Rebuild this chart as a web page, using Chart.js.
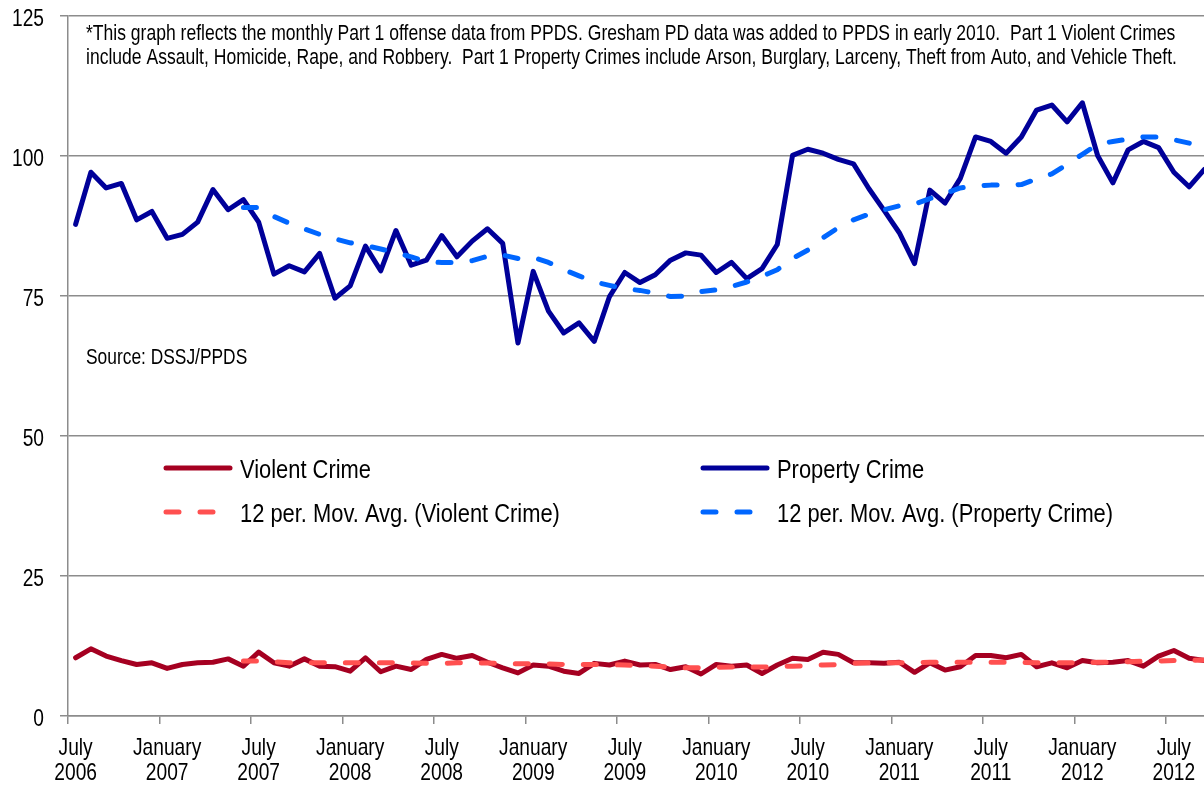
<!DOCTYPE html>
<html>
<head>
<meta charset="utf-8">
<script src="https://cdn.jsdelivr.net/npm/chart.js@4.4.1/dist/chart.umd.min.js"></script>
<style>
  html, body { margin: 0; padding: 0; background: #fff; overflow: hidden; }
  #wrap { position: relative; width: 1204px; height: 788px; overflow: hidden; }
  canvas { display: block; }
</style>
</head>
<body>
<div id="wrap"><canvas id="chart" width="1212" height="788"></canvas></div>
<script>
// monthly categories, July 2006 - September 2012
const categories = [
  'Jul 2006', 'Aug 2006', 'Sep 2006', 'Oct 2006', 'Nov 2006', 'Dec 2006',
  'Jan 2007', 'Feb 2007', 'Mar 2007', 'Apr 2007', 'May 2007', 'Jun 2007',
  'Jul 2007', 'Aug 2007', 'Sep 2007', 'Oct 2007', 'Nov 2007', 'Dec 2007',
  'Jan 2008', 'Feb 2008', 'Mar 2008', 'Apr 2008', 'May 2008', 'Jun 2008',
  'Jul 2008', 'Aug 2008', 'Sep 2008', 'Oct 2008', 'Nov 2008', 'Dec 2008',
  'Jan 2009', 'Feb 2009', 'Mar 2009', 'Apr 2009', 'May 2009', 'Jun 2009',
  'Jul 2009', 'Aug 2009', 'Sep 2009', 'Oct 2009', 'Nov 2009', 'Dec 2009',
  'Jan 2010', 'Feb 2010', 'Mar 2010', 'Apr 2010', 'May 2010', 'Jun 2010',
  'Jul 2010', 'Aug 2010', 'Sep 2010', 'Oct 2010', 'Nov 2010', 'Dec 2010',
  'Jan 2011', 'Feb 2011', 'Mar 2011', 'Apr 2011', 'May 2011', 'Jun 2011',
  'Jul 2011', 'Aug 2011', 'Sep 2011', 'Oct 2011', 'Nov 2011', 'Dec 2011',
  'Jan 2012', 'Feb 2012', 'Mar 2012', 'Apr 2012', 'May 2012', 'Jun 2012',
  'Jul 2012', 'Aug 2012', 'Sep 2012'
];

// shown every 6th month
const tickLabels = [
  ['July', '2006'], ['January', '2007'], ['July', '2007'], ['January', '2008'],
  ['July', '2008'], ['January', '2009'], ['July', '2009'], ['January', '2010'],
  ['July', '2010'], ['January', '2011'], ['July', '2011'], ['January', '2012'],
  ['July', '2012']
];

const yTicks = [0, 25, 50, 75, 100, 125];

const violentCrime = [
  10.4, 12.0, 10.7, 9.9, 9.2, 9.5, 8.5, 9.2, 9.5, 9.6, 10.2, 8.9,
  11.4, 9.5, 8.9, 10.2, 8.9, 8.8, 8.0, 10.4, 7.9, 8.9, 8.3, 10.1,
  11.0, 10.3, 10.8, 9.6, 8.6, 7.7, 9.1, 8.9, 8.0, 7.6, 9.4, 9.1,
  9.8, 9.1, 9.2, 8.3, 8.8, 7.5, 9.2, 8.9, 9.1, 7.6, 9.1, 10.3,
  10.1, 11.4, 11.0, 9.5, 9.5, 9.4, 9.6, 7.8, 9.5, 8.2, 8.8, 10.8,
  10.8, 10.4, 11.0, 8.8, 9.5, 8.6, 9.9, 9.5, 9.6, 9.9, 8.9, 10.7,
  11.7, 10.3, 9.9
];

const propertyCrime = [
  87.8, 97.1, 94.3, 95.1, 88.6, 90.1, 85.3, 86.0, 88.2, 94.0, 90.4, 92.2,
  88.2, 78.9, 80.4, 79.3, 82.6, 74.6, 76.8, 83.9, 79.5, 86.7, 80.5, 81.4,
  85.8, 82.0, 84.8, 87.0, 84.4, 66.6, 79.4, 72.3, 68.4, 70.2, 66.9, 74.9,
  79.2, 77.4, 78.8, 81.4, 82.7, 82.3, 79.2, 81.0, 78.1, 79.9, 84.2, 100.1,
  101.2, 100.5, 99.4, 98.6, 94.2, 90.3, 86.3, 80.8, 93.9, 91.6, 96.0, 103.4,
  102.6, 100.5, 103.4, 108.2, 109.1, 106.1, 109.5, 100.1, 95.2, 101.1, 102.6, 101.5,
  97.1, 94.5, 97.6
];

// 12 period moving averages, first value at June 2007
const avgStart = 11;
const violentAvg = [
  9.8, 9.8, 9.7, 9.5, 9.5, 9.5, 9.5, 9.5, 9.5, 9.5, 9.5, 9.45, 9.4,
  9.35, 9.5, 9.5, 9.45, 9.35, 9.35, 9.35, 9.3, 9.2, 9.2, 9.2, 9.2, 9.1,
  8.95, 8.9, 8.7, 8.6, 8.6, 8.7, 8.75, 8.75, 8.75, 8.8, 8.9, 9.0, 9.1,
  9.2, 9.4, 9.5, 9.5, 9.5, 9.5, 9.6, 9.6, 9.6, 9.6, 9.6, 9.6, 9.6,
  9.5, 9.5, 9.5, 9.5, 9.6, 9.6, 9.7, 9.8, 9.8, 9.9, 9.9, 10.0
];
const propertyAvg = [
  90.8, 90.8, 89.2, 88.0, 87.0, 86.0, 85.2, 84.5, 84.0, 83.4, 82.7, 82.0, 81.1,
  81.0, 81.0, 81.3, 82.1, 82.3, 81.7, 81.9, 81.0, 79.7, 78.6, 77.5, 76.9, 76.3,
  76.0, 75.5, 74.9, 75.0, 75.8, 76.1, 76.7, 77.5, 78.5, 79.7, 81.7, 83.2, 85.4,
  87.2, 88.6, 89.6, 90.4, 91.1, 91.4, 92.4, 93.3, 94.3, 94.6, 94.8, 94.8, 94.9,
  95.9, 96.8, 98.5, 100.3, 102.1, 102.6, 103.0, 103.4, 103.4, 102.9, 102.3, 101.7
];

const noteLines = [
  '*This graph reflects the monthly Part 1 offense data from PPDS. Gresham PD data was added to PPDS in early 2010.  Part 1 Violent Crimes',
  'include Assault, Homicide, Rape, and Robbery.  Part 1 Property Crimes include Arson, Burglary, Larceny, Theft from Auto, and Vehicle Theft.'
];
const sourceText = 'Source: DSSJ/PPDS';

// no Arial Narrow here, so squeeze Liberation Sans sideways
const FONT = "'Liberation Sans', Arial, sans-serif";
const NARROW = 0.82;
const GRID = '#8c8c8c';

function padAvg(values) {
  return new Array(avgStart).fill(null).concat(values);
}

function narrowText(ctx, text, x, y, size, align) {
  ctx.save();
  ctx.font = size + 'px ' + FONT;
  ctx.fillStyle = '#000';
  ctx.textAlign = align;
  ctx.textBaseline = 'alphabetic';
  ctx.translate(x, y);
  ctx.scale(NARROW, 1);
  ctx.fillText(text, 0, 0);
  ctx.restore();
}

const datasets = [
  { label: 'Violent Crime', data: violentCrime, borderColor: '#a50021', borderDash: [], order: 1 },
  { label: 'Property Crime', data: propertyCrime, borderColor: '#000099', borderDash: [], order: 1 },
  { label: '12 per. Mov. Avg. (Violent Crime)', data: padAvg(violentAvg), borderColor: '#ff5050', borderDash: [13, 21], order: 0 },
  { label: '12 per. Mov. Avg. (Property Crime)', data: padAvg(propertyAvg), borderColor: '#0066ff', borderDash: [13, 21], order: 0 }
].map(d => Object.assign(d, {
  borderWidth: 5,
  borderCapStyle: 'round',
  borderJoinStyle: 'round',
  pointRadius: 0,
  tension: 0,
  fill: false,
  spanGaps: false
}));

// legend boxes: [dataset index, line x, row y]
const legendSlots = [[0, 163, 468], [1, 700, 468], [2, 163, 512], [3, 700, 512]];

const overlayPlugin = {
  id: 'overlay',
  afterDraw(chart) {
    const ctx = chart.ctx;
    const xs = chart.scales.x;
    const ys = chart.scales.y;

    // axis labels
    yTicks.forEach(v => narrowText(ctx, String(v), 44, ys.getPixelForValue(v) + 9.5, 23.4, 'right'));
    tickLabels.forEach((lines, k) => {
      const x = xs.getPixelForValue(k * 6);
      narrowText(ctx, lines[0], x, 755, 23.4, 'center');
      narrowText(ctx, lines[1], x, 780, 23.4, 'center');
    });

    // notes
    narrowText(ctx, noteLines[0], 86, 39.5, 21.4, 'left');
    narrowText(ctx, noteLines[1], 86, 63.5, 21.4, 'left');
    narrowText(ctx, sourceText, 86, 363.5, 21.2, 'left');

    // legend
    legendSlots.forEach(([i, x, y]) => {
      const ds = chart.data.datasets[i];
      ctx.save();
      ctx.strokeStyle = ds.borderColor;
      ctx.lineWidth = 5;
      ctx.lineCap = 'round';
      ctx.setLineDash(ds.borderDash);
      ctx.beginPath();
      ctx.moveTo(x + 3, y);
      ctx.lineTo(x + 67, y);
      ctx.stroke();
      ctx.restore();
      narrowText(ctx, ds.label, x + 77, y + 9.5, 26.7, 'left');
    });
  }
};

new Chart(document.getElementById('chart'), {
  type: 'line',
  data: { labels: categories, datasets: datasets },
  plugins: [overlayPlugin],
  options: {
    responsive: false,
    animation: false,
    layout: { padding: { top: 16, right: 0, bottom: 0, left: 0 } },
    plugins: { legend: { display: false }, tooltip: { enabled: false } },
    scales: {
      x: {
        type: 'category',
        offset: true,
        afterFit: scale => { scale.height = 72; },
        grid: {
          offset: true,
          drawOnChartArea: false,
          drawTicks: true,
          tickLength: 8,
          lineWidth: 1.5,
          color: ctx => (ctx.index % 6 === 0 ? GRID : 'rgba(0,0,0,0)')
        },
        border: { display: true, color: GRID, width: 1.5 },
        ticks: { display: false, autoSkip: false, maxRotation: 0 }
      },
      y: {
        min: yTicks[0],
        max: yTicks[yTicks.length - 1],
        afterFit: scale => { scale.width = 68; },
        afterBuildTicks: scale => { scale.ticks = yTicks.map(v => ({ value: v })); },
        grid: {
          color: GRID,
          lineWidth: 1.5,
          drawTicks: true,
          tickLength: 8
        },
        border: { display: true, color: GRID, width: 1.5 },
        ticks: { display: false }
      }
    }
  }
});
</script>
</body>
</html>
